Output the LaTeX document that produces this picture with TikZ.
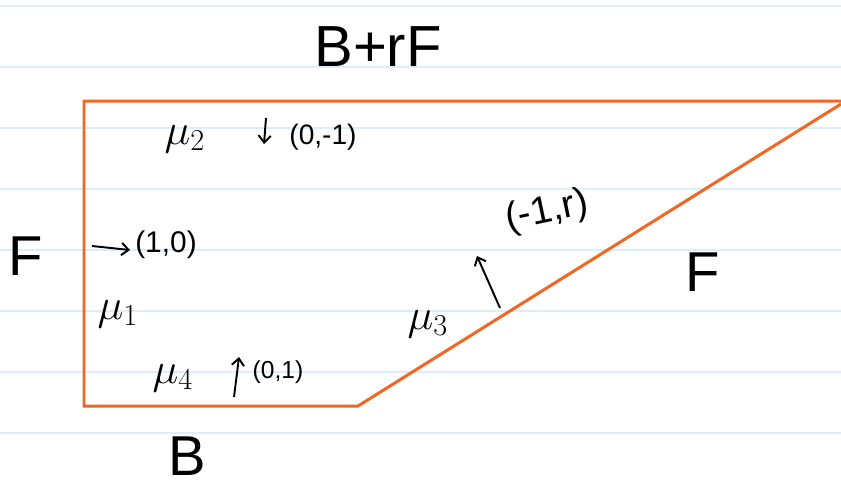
\documentclass[tikz,border=0pt]{standalone}
\usepackage{fontspec}
\setmainfont{Liberation Sans}
\usepackage{tikz}
\usetikzlibrary{positioning,arrows.meta}
\usepackage{xcolor}
\definecolor{edgeorange}{HTML}{F26522}
\definecolor{ruleblue}{HTML}{DCEEFA}

\begin{document}
\begin{tikzpicture}[
    x=0.02cm,
    y=-0.02cm,
    rule/.style={
        draw=ruleblue,
        line width=1.1pt
    },
    edge/.style={
        draw=edgeorange,
        line width=1.7pt
    },
    side/.style={
        inner sep=0pt,
        font=\fontsize{32}{36}\selectfont
    },
    mulabel/.style={
        inner sep=0pt,
        font=\fontsize{26}{30}\selectfont
    },
    vec/.style={
        inner sep=0pt,
        font=\fontsize{16}{18}\selectfont
    },
    flow/.style={
        -{Straight Barb[length=4pt,width=7pt]},
        line width=1.1pt
    }
]

\useasboundingbox (0,0) rectangle (841,485);

% ruled paper
\foreach \y in {6,67,...,433}
    \draw[rule] (0,\y) -- (841,\y);

% region corners
\coordinate (topright) at (841,101);
\coordinate (topleft) at (84,101);
\coordinate (botleft) at (84,406);
\coordinate (botmid) at (358,406);
\coordinate (slantend) at (841,104);

\draw[edge] (topright) -- (topleft) -- (botleft) -- (botmid) -- (slantend);

% side labels
\node[side, font=\fontsize{33}{37}\selectfont] (top) at (378,47) {B+rF};
\node[side] (left) at (26,256) {F};
\node[side] (bottom) at (187,456) {B};
\node[side] (right) at (703,272) {F};

% boundary pieces
\node[mulabel] (mu1) at (118,314) {$\mu_1$};
\node[mulabel] (mu2) at (185,139) {$\mu_2$};
\node[mulabel] (mu3) at (428,324) {$\mu_3$};
\node[mulabel] (mu4) at (173,378) {$\mu_4$};

% normals
\node[vec] (n2) at (323,137) {(0,-1)};
\node[vec, font=\fontsize{17}{20}\selectfont] (n1) at (166,245) {(1,0)};
\node[vec, font=\fontsize{14}{16}\selectfont] (n4) at (278,372) {(0,1)};
\node[vec, font=\fontsize{22}{26}\selectfont, rotate=12] (n3) at (547,212) {(-1,r)};

\coordinate (a2s) at (266,118);
\coordinate (a2e) at (264,144);
\coordinate (a1s) at (92,246);
\coordinate (a1e) at (130,250);
\coordinate (a4s) at (234,397);
\coordinate (a4e) at (239,357);
\coordinate (a3s) at (500,308);
\coordinate (a3e) at (477,256);

\draw[flow] (a2s) -- (a2e);
\draw[flow] (a1s) -- (a1e);
\draw[flow] (a4s) -- (a4e);
\draw[flow] (a3s) -- (a3e);

\end{tikzpicture}
\end{document}
